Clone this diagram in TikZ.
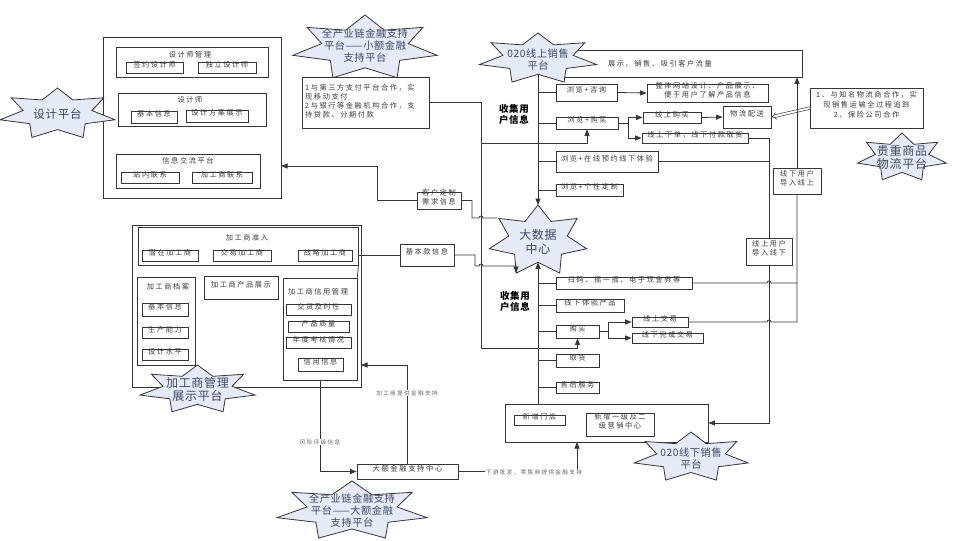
\documentclass[tikz,border=0pt]{standalone}
\usepackage{fontspec}
\setmainfont[LetterSpace=22]{Noto Sans CJK SC}
\newfontfamily\starfont[LetterSpace=6]{Noto Sans CJK SC}
\usetikzlibrary{arrows.meta,fit}
\definecolor{lncol}{HTML}{363636}
\definecolor{txcol}{HTML}{3A3A3A}
\definecolor{lbcol}{HTML}{686868}
\definecolor{stfill}{HTML}{E4EAF6}
\definecolor{sttext}{HTML}{3E4862}
\tikzset{
  bx/.style={draw=lncol, line width=0.8pt, fill=white, inner sep=0pt, text=txcol, align=center, font=\fontsize{7.2}{9}\selectfont},
  ttl/.style={inner sep=0pt, text=txcol, align=center, font=\fontsize{7.2}{9}\selectfont},
  conn/.style={draw=lncol, line width=0.8pt},
  arr/.style={conn, -{Triangle[length=6.5pt,width=5pt]}},
  dbl/.style={draw=lncol, line width=0.6pt, double=white, double distance=2pt, -{Implies}},
  lbl/.style={fill=white, inner sep=0.6pt, text=lbcol, font=\fontsize{5.7}{7}\selectfont},
  burstline/.style={draw=lncol, line width=0.8pt, fill=stfill},
  bursttext/.style={inner sep=0pt, text=sttext, align=center, font=\starfont\fontsize{10.2}{12}\selectfont},
  boldlbl/.style={inner sep=0pt, align=center, text=black, font=\starfont\fontsize{9.5}{11}\selectfont\bfseries},
}
\newcommand{\burst}[7]{%
  \draw[burstline] plot[samples at={0,...,13}, variable=\k]
    ({#2+#4*(1-0.4*mod(\k,2))*cos(-90+\k*180/7)},
     {#3+#5*(1-0.4*mod(\k,2))*sin(-90+\k*180/7)}) -- cycle;
  \node[bursttext, #7] (#1) at (#2,#3) {#6};
}
\begin{document}
\begin{tikzpicture}[x=1pt,y=-1pt]
\path[use as bounding box, fill=white] (0,0) rectangle (957,540);

% ---------------- design platform
\node[bx, fit={(103,37)(281,198)}] (dp) {};
\node[bx, fit={(116,47)(268,77)}] (dgm) {};
\node[ttl] (dgmT) at (190,54.5) {设计师管理};
\node[bx, fit={(126,62)(183,73)}] (qy) {签约设计师};
\node[bx, fit={(198,62)(256,73)}] (dl) {独立设计师};
\node[bx, fit={(118,93)(266,126)}] (dsr) {};
\node[ttl] (dsrT) at (190,100) {设计师};
\node[bx, fit={(131,111)(177,123)}] (jb1) {基本信息};
\node[bx, fit={(186,110)(248,122)}] (fa) {设计方案展示};
\node[bx, fit={(116,154)(260,188)}] (xx) {};
\node[ttl] (xxT) at (188,160.5) {信息交流平台};
\node[bx, fit={(121,172)(179,183)}] (zn) {站内联系};
\node[bx, fit={(192,172)(252,183)}] (jg) {加工商联系};
\burst{dpS}{57.5}{114}{59}{26}{设计平台}{font=\starfont\fontsize{11.5}{13.5}\selectfont}
\coordinate (dpin) at (281,166);

% ---------------- small finance
\burst{xeS}{365}{48}{74}{33}{全产业链金融支持\\平台——小额金融\\支持平台}{yshift=2pt}
\node[bx, fit={(302,77)(429,128)}] (pay) {};
\node[ttl, anchor=north west, align=left] (payT) at (305,84) {1与第三方支付平台合作，实\\现移动支付\\2与银行等金融机构合作，支\\持贷款、分期付款};

% ---------------- online sales
\node[bx, fit={(560,50)(802,77)}] (flow) {};
\node[ttl] (flowT) at (660,64) {展示、销售、吸引客户流量};
\burst{onS}{538}{58.8}{60}{25.8}{020线上销售\\平台}{yshift=-1pt}
\coordinate (onB) at (538,74.3);

\node[bx, fit={(556,84)(617,101)}] (zx) {浏览+咨询};
\node[bx, fit={(647,84)(768,102)}] (wz) {整体网站设计、产品展示、\\便于用户了解产品信息};
\node[bx, fit={(556,117)(618,129)}] (gm1) {浏览+购买};
\node[bx, fit={(643,112)(701,123)}] (xsgm) {线上购买};
\node[bx, fit={(642,133)(748,143)}] (xsxd) {线上下单，线下付款取货};
\node[bx, fit={(723,106)(771,128)}] (wl) {物流配送};
\node[bx, fit={(810,88)(923,128)}, font=\fontsize{7.2}{9.8}\selectfont] (wlb) {1、与知名物流商合作，实\\现销售运输全过程追踪\\2、保险公司合作};
\burst{gzS}{902}{157.6}{45.6}{24.6}{贵重商品\\物流平台}{font=\starfont\fontsize{12}{13.5}\selectfont}
\node[bx, fit={(556,151)(658,172)}] (yy) {浏览+在线预约线下体验};
\node[bx, fit={(556,184)(623,196)}] (gx) {浏览+个性定制};
\node[boldlbl] (sj1) at (514,114.5) {收集用\\户信息};
\node[bx, fit={(773,168)(821,194)}] (dr1) {线下用户\\导入线上};
\node[bx, fit={(746,238)(792,265)}] (dr2) {线上用户\\导入线下};

% ---------------- big data centre
\node[bx, fit={(417,192)(461,209)}] (kh) {客户定制\\需求信息};
\node[bx, fit={(400,244)(454,266)}] (jbk) {基本款信息};
\burst{bdS}{538}{240.8}{50}{35.8}{大数据\\中心}{font=\starfont\fontsize{12}{14}\selectfont, yshift=-1pt}
\coordinate (bdT) at (538,205);
\coordinate (bdB) at (538,262.3);
\coordinate (bdUL) at (497,218);
\coordinate (bdLL) at (516,273);

% ---------------- offline sales
\node[bx, fit={(556,277)(692,289)}] (sm) {扫码、摇一摇、电子现金券等};
\node[bx, fit={(556,299)(624,312)}] (ty) {线下体验产品};
\node[bx, fit={(556,325)(599,338)}] (gm2) {购买};
\node[bx, fit={(632,317)(688,327)}] (xsjy) {线上交易};
\node[bx, fit={(632,333)(703,343)}] (xxjy) {线下完成交易};
\node[bx, fit={(556,354)(599,367)}] (qh) {取货};
\node[bx, fit={(556,382)(599,393)}] (sh) {售后服务};
\node[boldlbl] (sj2) at (515,301.5) {收集用\\户信息};
\node[bx, fit={(505,404)(708,442)}] (xd) {};
\node[bx, fit={(514,415)(565,425)}] (md) {新增门店};
\node[bx, fit={(586,413)(654,436)}] (yx) {新增一级及二\\级营销中心};
\burst{offS}{691}{457.3}{58.5}{25.3}{020线下销售\\平台}{yshift=-1pt}
\coordinate (xdB) at (577,442);

% ---------------- processor platform
\node[bx, fit={(132,225)(361,387)}] (jgs) {};
\node[bx, fit={(138,227)(358,265)}] (zr) {};
\node[ttl] (zrT) at (247,238) {加工商准入};
\node[bx, fit={(142,250)(198,261)}] (qz) {潜在加工商};
\node[bx, fit={(213,250)(271,261)}] (jyj) {交易加工商};
\node[bx, fit={(298,250)(352,261)}] (zlj) {战略加工商};
\node[bx, fit={(137,277)(195,365)}] (da) {};
\node[ttl] (daT) at (168,287) {加工商档案};
\node[bx, fit={(142,303)(188,316)}] (jb2) {基本信息};
\node[bx, fit={(142,327)(188,338)}] (scn) {生产能力};
\node[bx, fit={(142,349)(188,360)}] (sjs) {设计水平};
\node[bx, fit={(204,276)(278,299)}] (zs) {加工商产品展示};
\node[bx, fit={(283,278)(357,380)}] (xy) {};
\node[ttl] (xyT) at (318,292) {加工商信用管理};
\node[bx, fit={(286,304)(351,315)}] (jh) {交货及时性};
\node[bx, fit={(288,321)(349,332)}] (zlq) {产品质量};
\node[bx, fit={(286,337)(351,348)}] (nd) {年度考核情况};
\node[bx, fit={(298,358)(343,371)}] (xyx) {信用信息};
\burst{jgS}{197.5}{389.6}{59}{24.6}{加工商管理\\展示平台}{font=\starfont\fontsize{12}{13.5}\selectfont}
\coordinate (jgsR) at (361,365);
\coordinate (xyB) at (320,380);
\draw[conn] (zr.south east) -- (xy.north east);

% ---------------- large finance
\node[bx, fit={(357,464)(458,479)}, font=\fontsize{7.3}{9}\selectfont] (de) {大额金融支持中心};
\coordinate (deT) at (407,464);
\burst{deS}{352}{511}{77}{30}{全产业链金融支持\\平台——大额金融\\支持平台}{}

% ================= connectors
% online column
\draw[arr] (onB) -- (bdT);
\draw[conn] (zx.west -| onB) -- (zx.west);
\draw[conn] (gm1.west -| onB) -- (gm1.west);
\draw[conn] (yy.west -| onB) -- (yy.west);
\draw[conn] (gx.west -| onB) -- (gx.west);
\draw[arr] (zx.east) -- (wz.west);
\draw[conn] (gm1.east) -- (628,123);
\draw[arr] (628,123) |- (xsgm.west);
\draw[arr] (628,123) |- (xsxd.west);
\draw[arr] (xsgm.east) -- (wl.west);
\draw[dbl] (wlb.west) -- (wl.east);
\draw[conn] (xsxd.east) -| (dr2.north);
\draw[conn] (yy.east) -- (yy.east -| dr2.north);
\draw[arr] (dr2.south) |- (xd.east);
\draw[arr] (dr1.north) -- (dr1.north |- flow.south);

% offline column
\draw[arr] (xd.north -| bdB) -- (bdB);
\draw[conn] (sm.west -| bdB) -- (sm.west);
\draw[conn] (ty.west -| bdB) -- (ty.west);
\draw[conn] (gm2.west -| bdB) -- (gm2.west);
\draw[conn] (qh.west -| bdB) -- (qh.west);
\draw[conn] (sh.west -| bdB) -- (sh.west);
\draw[conn] (gm2.east) -- (608,331.5);
\draw[arr] (608,331.5) |- (xsjy.west);
\draw[arr] (608,331.5) |- (xxjy.west);
\draw[conn] (sm.east) -- (767,283) arc[start angle=180, end angle=0, radius=2pt] -- (797,283);
\draw[conn] (xsjy.east) -- (767,322) arc[start angle=180, end angle=0, radius=2pt] -- (797,322) -- (dr1.south);

% payment lines
\draw[arr] (pay.east) -| (481,348) -| (gm2.south);
\draw[arr] (481,143) -| (gm1.south);

% customised demand / basic style
\draw[conn] (bdUL) -- (483,218) arc[start angle=0, end angle=180, radius=2pt] -- (472,218) |- (kh.east);
\draw[arr] (kh.west) -| (377,166) -- (dpin);
\draw[conn] (jbk.west -| zr.east) -- (jbk.west);
\draw[arr] (jbk.east) -- (475,255) -- (475,266) -- (479,266) arc[start angle=180, end angle=0, radius=2pt] -- (516,266) -- (bdLL);

% finance
\draw[arr] (deT) |- (jgsR);
\node[lbl] (l1) at (407,393) {加工商提供金融支持};
\draw[arr] (xyB) |- (de.west);
\node[lbl] (l2) at (320,442) {风险评级信息};
\draw[arr] (de.east) -| (xdB);
\node[lbl] (l3) at (534,472) {下游批发、零售商提供金融支持};
\end{tikzpicture}
\end{document}
